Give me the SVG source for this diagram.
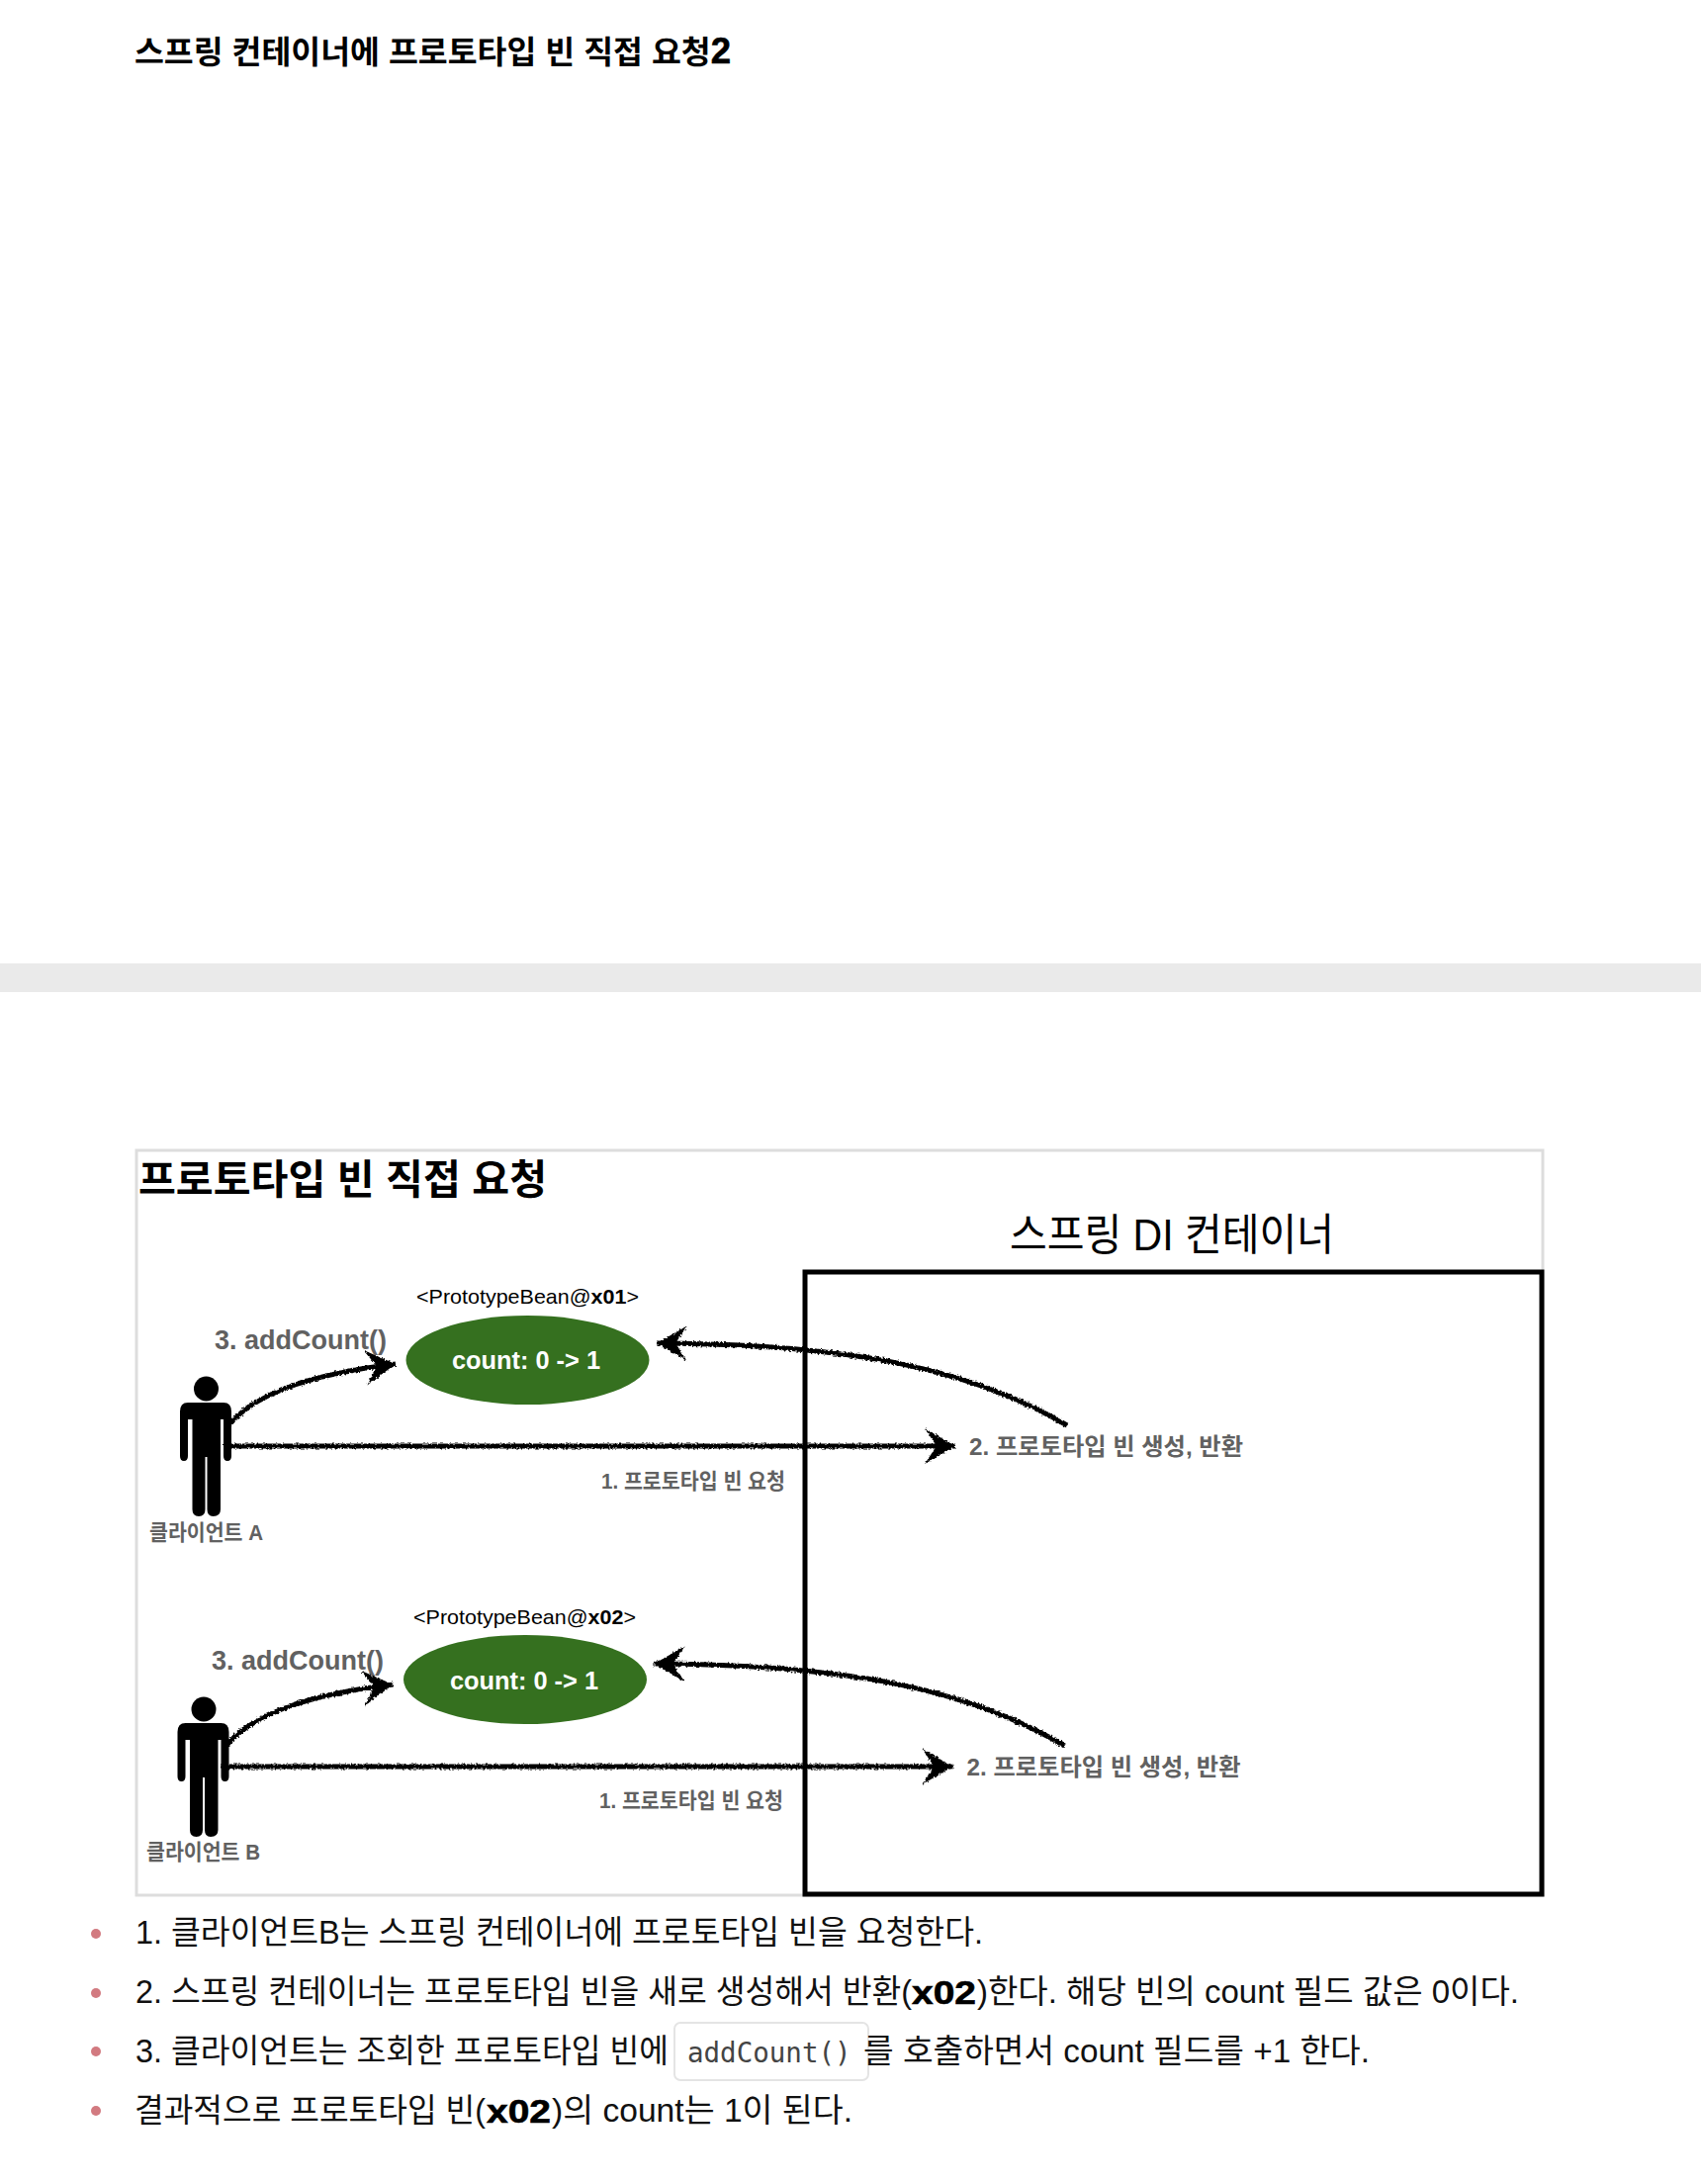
<svg xmlns="http://www.w3.org/2000/svg" width="1720" height="2208" viewBox="0 0 1720 2208">
<style>
text{font-family:"Liberation Sans","Noto Sans CJK KR",sans-serif;fill:#000}
.b{font-weight:700}
.g{fill:#616161;font-weight:700}
.body{font-size:32.500px;fill:#111}
.x{font-size:34px;font-weight:700;fill:#000;stroke:#000;stroke-width:.6px}
.mono{font-family:"DejaVu Sans Mono","Noto Sans CJK KR",monospace;font-size:27.500px;fill:#444}
.lab{font-size:21px}
.cnt{font-size:25px;font-weight:700;fill:#fff}
.add{font-size:27px}
.small{font-size:22px}
.arrow{fill:none;stroke:#000;stroke-width:5;marker-end:url(#head)}
.bean{fill:#35701f}
.dot{fill:#d27a80}
</style>
<defs>
<marker id="head" markerUnits="userSpaceOnUse" viewBox="-34 -22 36 44" markerWidth="36" markerHeight="44" refX="0" refY="0" orient="auto"><path d="M0,0L-31,-18L-19,0L-31,18Z" fill="#000"/></marker>
<filter id="rough" filterUnits="userSpaceOnUse" x="0" y="0" width="1720" height="2208"><feTurbulence type="fractalNoise" baseFrequency="0.45" numOctaves="2" seed="3"/><feDisplacementMap in="SourceGraphic" scale="4" xChannelSelector="R" yChannelSelector="G"/></filter>
<g id="person"><ellipse cx="208.500" cy="1404" rx="12.500" ry="12.500"/><path d="M190,1418H226Q234,1418 234,1427V1472Q234,1477 230,1477Q226,1477 226,1472V1435H223V1526Q223,1533 215.500,1533Q209.500,1533 209.500,1526V1473H207.500V1526Q207.500,1533 201,1533Q194.500,1533 194.500,1526V1435H190V1472Q190,1477 186,1477Q182,1477 182,1472V1427Q182,1418 190,1418Z"/></g>
</defs>
<rect width="1720" height="2208" fill="#fff"/>
<text id="page-title" class="b" x="136" y="64" font-size="32" textLength="603" lengthAdjust="spacingAndGlyphs">스프링 컨테이너에 프로토타입 빈 직접 요청<tspan font-size="36" stroke="#000" stroke-width=".6">2</tspan></text>
<rect id="band" x="0" y="974" width="1720" height="29" fill="#eaeaea"/>
<g id="frame"><rect x="138" y="1163" width="1422" height="753" fill="#fff" stroke="#dddddd" stroke-width="3"/></g>
<text id="figure-title" class="b" x="140" y="1207" font-size="41" textLength="413" lengthAdjust="spacingAndGlyphs">프로토타입 빈 직접 요청</text>
<g id="container"><rect x="814" y="1286" width="745" height="629" fill="none" stroke="#000" stroke-width="5"/><text x="1021" y="1264" font-size="44" textLength="328" lengthAdjust="spacingAndGlyphs">스프링 DI 컨테이너</text></g>
<g id="client-a"><use href="#person"/><text class="g small" x="151" y="1557" textLength="115" lengthAdjust="spacingAndGlyphs">클라이언트 A</text></g>
<g id="client-b"><use href="#person" transform="translate(-2.500,324)"/><text class="g small" x="148" y="1880" textLength="115" lengthAdjust="spacingAndGlyphs">클라이언트 B</text></g>
<g id="bean-x01"><text class="lab" x="421" y="1318" textLength="225" lengthAdjust="spacingAndGlyphs">&lt;PrototypeBean@<tspan class="b">x01</tspan>&gt;</text><ellipse class="bean" cx="533.500" cy="1375" rx="123" ry="45"/><text class="cnt" x="457" y="1384" textLength="150" lengthAdjust="spacingAndGlyphs">count: 0 -&gt; 1</text></g>
<g id="bean-x02"><text class="lab" x="418" y="1642" textLength="225" lengthAdjust="spacingAndGlyphs">&lt;PrototypeBean@<tspan class="b">x02</tspan>&gt;</text><ellipse class="bean" cx="531" cy="1698" rx="123" ry="45"/><text class="cnt" x="455" y="1708" textLength="150" lengthAdjust="spacingAndGlyphs">count: 0 -&gt; 1</text></g>
<g id="connectors" filter="url(#rough)">
<path class="arrow" d="M226,1462H966"/>
<path class="arrow" d="M232,1440C262,1405 325,1388 400,1379"/>
<path class="arrow" d="M1079,1441C980,1383 860,1359 664,1358"/>
<path class="arrow" d="M223.500,1786H963.500"/>
<path class="arrow" d="M229.500,1764C259.500,1729 322.500,1712 397.500,1703"/>
<path class="arrow" d="M1076.500,1765C977.500,1707 857.500,1683 661.500,1682"/>
</g>
<g id="labels">
<text class="g add" x="217" y="1364" textLength="174" lengthAdjust="spacingAndGlyphs">3. addCount()</text>
<text class="g add" x="214" y="1688" textLength="174" lengthAdjust="spacingAndGlyphs">3. addCount()</text>
<text class="g small" x="608" y="1505" textLength="186" lengthAdjust="spacingAndGlyphs">1. 프로토타입 빈 요청</text>
<text class="g small" x="606" y="1828" textLength="186" lengthAdjust="spacingAndGlyphs">1. 프로토타입 빈 요청</text>
<text class="g" font-size="23.500" x="980" y="1471" textLength="277" lengthAdjust="spacingAndGlyphs">2. 프로토타입 빈 생성, 반환</text>
<text class="g" font-size="23.500" x="977.500" y="1795" textLength="277" lengthAdjust="spacingAndGlyphs">2. 프로토타입 빈 생성, 반환</text>
</g>
<g id="list">
<circle class="dot" cx="97" cy="1955" r="5"/><circle class="dot" cx="97" cy="2015" r="5"/><circle class="dot" cx="97" cy="2074" r="5"/><circle class="dot" cx="97" cy="2134" r="5"/>
<text class="body" x="137" y="1965" textLength="857" lengthAdjust="spacingAndGlyphs">1. 클라이언트B는 스프링 컨테이너에 프로토타입 빈을 요청한다.</text>
<text class="body" x="137" y="2025" textLength="785" lengthAdjust="spacingAndGlyphs">2. 스프링 컨테이너는 프로토타입 빈을 새로 생성해서 반환(</text>
<text class="x" x="922" y="2026" textLength="65" lengthAdjust="spacingAndGlyphs">x02</text>
<text class="body" x="988" y="2025" textLength="548" lengthAdjust="spacingAndGlyphs">)한다. 해당 빈의 count 필드 값은 0이다.</text>
<text class="body" x="137" y="2085" textLength="539" lengthAdjust="spacingAndGlyphs">3. 클라이언트는 조회한 프로토타입 빈에</text>
<rect x="682" y="2045" width="196" height="58" rx="6" fill="#fff" stroke="#e4e4e4" stroke-width="2"/>
<text class="mono" x="695" y="2085">addCount()</text>
<text class="body" x="873" y="2085" textLength="512" lengthAdjust="spacingAndGlyphs">를 호출하면서 count 필드를 +1 한다.</text>
<text class="body" x="136" y="2145" textLength="355" lengthAdjust="spacingAndGlyphs">결과적으로 프로토타입 빈(</text>
<text class="x" x="492" y="2146" textLength="65" lengthAdjust="spacingAndGlyphs">x02</text>
<text class="body" x="558" y="2145" textLength="304" lengthAdjust="spacingAndGlyphs">)의 count는 1이 된다.</text>
</g>
</svg>
